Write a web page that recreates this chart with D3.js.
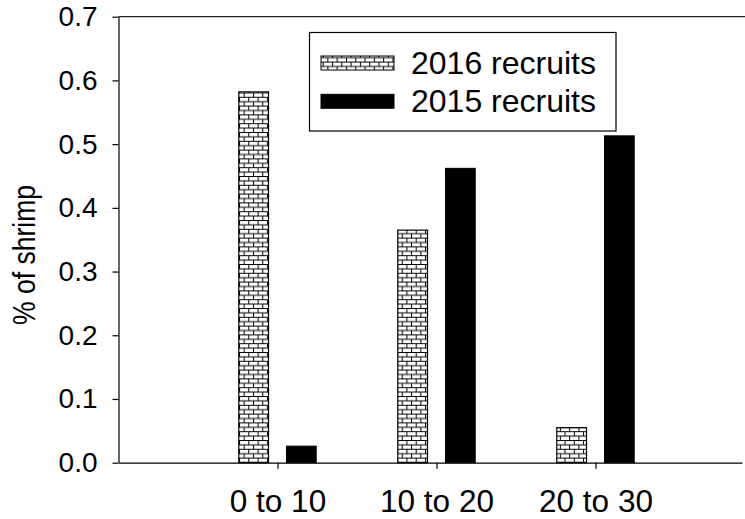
<!DOCTYPE html>
<html><head><meta charset="utf-8">
<script src="https://cdn.jsdelivr.net/npm/d3@7/dist/d3.min.js"></script>
<style>
html,body{margin:0;padding:0;background:#fff;}
svg{display:block;font-family:Arial,"Liberation Sans",sans-serif;}
</style></head>
<body><svg id="c" width="745" height="519"></svg>
<script>
const categories = ["0 to 10", "10 to 20", "20 to 30"];
const seriesNames = ["2016 recruits", "2015 recruits"];
const values2016 = [0.582, 0.365, 0.055];
const values2015 = [0.026, 0.462, 0.513];
const yTicks = [0, 0.1, 0.2, 0.3, 0.4, 0.5, 0.6, 0.7];

(function () {
const svg = d3.select("#c");
const pLeft = 118.5, pRight = 742, pTop = 16.7, pBottom = 462.7;
const unit = 159;
const x = d3.scaleLinear().domain([0, (pRight - pLeft) / unit]).range([pLeft, pRight]);
const y = d3.scaleLinear().domain([0, 0.7]).range([pBottom, pTop]);

const defs = svg.append("defs");
const pw = 9.3, ph = 8.8;
const pat = defs.append("pattern").attr("id", "brick").attr("patternUnits", "userSpaceOnUse")
  .attr("width", pw).attr("height", ph).attr("x", 239).attr("y", 0);
pat.append("rect").attr("width", pw).attr("height", ph).attr("fill", "#fff");
pat.append("path").attr("d",
  `M0,0.5H${pw}M0,${ph/2+0.5}H${pw}M0.5,0V${ph/2}M${pw/2+0.5},${ph/2}V${ph}`)
  .attr("stroke", "#000").attr("stroke-width", 1).attr("fill", "none");

// top frame line
svg.append("line").attr("x1", pLeft).attr("x2", 745).attr("y1", pTop).attr("y2", pTop)
  .attr("stroke", "#222").attr("stroke-width", 1.3);

const bw = 0.187, off = 0.15;
const g = svg.append("g");
categories.forEach((c, i) => {
  const x0 = x(i + 1 - off - bw / 2), x1 = x(i + 1 - off + bw / 2);
  g.append("rect").attr("x", x0).attr("y", y(values2016[i]))
    .attr("width", x1 - x0).attr("height", y(0) - y(values2016[i]))
    .attr("fill", "url(#brick)").attr("stroke", "#000").attr("stroke-width", 1.2);
  const x2 = x(i + 1 + off - bw / 2), x3 = x(i + 1 + off + bw / 2);
  g.append("rect").attr("x", x2).attr("y", y(values2015[i]))
    .attr("width", x3 - x2).attr("height", y(0) - y(values2015[i]))
    .attr("fill", "#000").attr("stroke", "#000").attr("stroke-width", 1);
});

// y axis
const ya = svg.append("g").attr("transform", `translate(${pLeft},0)`)
  .call(d3.axisLeft(y).tickValues(yTicks).tickFormat(d3.format(".1f")).tickSize(6).tickPadding(15).tickSizeOuter(0));
ya.selectAll("text").attr("font-size", 28).attr("fill", "#000").attr("font-family", "Arial, 'Liberation Sans', sans-serif");
ya.selectAll("line,path").attr("stroke", "#000").attr("stroke-width", 1.2);

// x axis
const xa = svg.append("g").attr("transform", `translate(0,${pBottom})`)
  .call(d3.axisBottom(x).tickValues([1, 2, 3]).tickFormat(d => categories[d - 1]).tickSize(6).tickPadding(21).tickSizeOuter(0));
xa.selectAll("text").attr("font-size", 31.5).attr("fill", "#000").attr("font-family", "Arial, 'Liberation Sans', sans-serif");
xa.selectAll("line,path").attr("stroke", "#000").attr("stroke-width", 1.2);

// y title
svg.append("text").attr("transform", `translate(35,255) rotate(-90)`)
  .attr("text-anchor", "middle").attr("font-size", 31).attr("fill", "#000")
  .attr("textLength", 140).attr("lengthAdjust", "spacingAndGlyphs").text("% of shrimp");

// legend
const lg = svg.append("g");
lg.append("rect").attr("x", 309.5).attr("y", 32.5).attr("width", 306.5).attr("height", 98.5)
  .attr("fill", "#fff").attr("stroke", "#000").attr("stroke-width", 1.2);
const legendFills = ["url(#brick)", "#000"];
const legendY = [63, 101.3];
seriesNames.forEach((s, i) => {
  lg.append("rect").attr("x", 321).attr("y", legendY[i] - 7).attr("width", 73).attr("height", 14)
    .attr("fill", legendFills[i]).attr("stroke", "#000").attr("stroke-width", 1);
  lg.append("text").attr("x", 411).attr("y", legendY[i] + 10.5).attr("font-size", 32)
    .attr("fill", "#000").text(s);
});
})();
</script></body></html>
